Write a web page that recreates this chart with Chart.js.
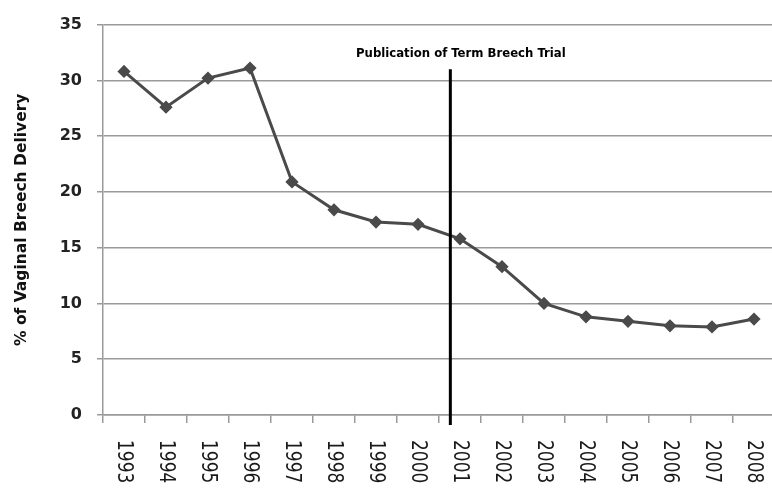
<!DOCTYPE html>
<html>
<head>
<meta charset="utf-8">
<script src="https://cdn.jsdelivr.net/npm/chart.js@4/dist/chart.umd.min.js"></script>
<style>
  html, body { margin: 0; padding: 0; background: #fff; overflow: hidden; }
  #wrap { width: 772px; height: 488px; overflow: hidden; }
</style>
</head>
<body>
<div id="wrap"><canvas id="myChart1" width="776" height="488"></canvas></div>
<script>
// values
var years = ['1993', '1994', '1995', '1996', '1997', '1998', '1999', '2000',
             '2001', '2002', '2003', '2004', '2005', '2006', '2007', '2008'];
var vaginalBreech = [30.8, 27.6, 30.2, 31.1, 20.9, 18.4, 17.3, 17.1,
                     15.8, 13.3, 10.0, 8.8, 8.4, 8.0, 7.9, 8.6];
var yTicks = [0, 5, 10, 15, 20, 25, 30, 35];

// publication marker (category index between 2000 and 2001, top value)
var pubIndex = 7.77;
var pubTop = 31;
var pubLabel = 'Publication of Term Breech Trial';
var pubLabelIndex = 8.02;
var pubLabelValue = 32.4;

// vertical line + text, and x labels rotated clockwise
const extras = {
  id: 'extras',
  afterDatasetsDraw(chart) {
    const ctx = chart.ctx;
    const x = chart.scales.x, y = chart.scales.y;
    ctx.save();
    ctx.strokeStyle = '#000';
    ctx.lineWidth = 3;
    ctx.beginPath();
    var px = x.getPixelForValue(pubIndex);
    ctx.moveTo(px, y.getPixelForValue(pubTop));
    ctx.lineTo(px, y.bottom + 10);
    ctx.stroke();

    ctx.fillStyle = '#000';
    ctx.font = 'bold 13px "DejaVu Sans Condensed", "DejaVu Sans"';
    ctx.textAlign = 'center';
    ctx.textBaseline = 'middle';
    ctx.fillText(pubLabel, x.getPixelForValue(pubLabelIndex), y.getPixelForValue(pubLabelValue));

    ctx.font = '17px "DejaVu Sans"';
    ctx.fillStyle = '#1a1a1a';
    ctx.textAlign = 'left';
    years.forEach((lab, i) => {
      ctx.save();
      ctx.translate(x.getPixelForTick(i), y.bottom + 25);
      ctx.rotate(Math.PI / 2);
      ctx.scale(1, 1.25);
      ctx.fillText(lab, 0, 0);
      ctx.restore();
    });
    ctx.restore();
  }
};

var ctx = document.getElementById('myChart1').getContext('2d');
var myChart1 = new Chart(ctx, {
  type: 'line',
  data: {
    labels: years,
    datasets: [{
      label: '% of Vaginal Breech Delivery',
      data: vaginalBreech,
      borderColor: '#4a4a4a',
      backgroundColor: '#4a4a4a',
      borderWidth: 3,
      pointStyle: 'rectRot',
      pointRadius: 4.5,
      pointHoverRadius: 4.5,
      tension: 0
    }]
  },
  plugins: [extras],
  options: {
    responsive: false,
    animation: false,
    layout: { autoPadding: false, padding: { top: 16, right: 1, left: 0, bottom: 0 } },
    plugins: { legend: { display: false }, tooltip: { enabled: false } },
    scales: {
      y: {
        min: 0,
        max: 35,
        afterBuildTicks: s => { s.ticks = yTicks.map(v => ({ value: v })); },
        afterFit: s => { s.width = 103; },
        grid: { color: '#9a9a9a', lineWidth: 1.5, tickLength: 6 },
        border: { color: '#9a9a9a', width: 1.5 },
        ticks: {
          color: '#222',
          padding: 15,
          font: { family: 'DejaVu Sans', weight: 'bold', size: 16 }
        },
        title: {
          display: true,
          text: '% of Vaginal Breech Delivery',
          color: '#111',
          padding: { top: 13, bottom: 0 },
          font: { family: 'DejaVu Sans', weight: 'bold', size: 15.5 }
        }
      },
      x: {
        offset: true,
        afterFit: s => { s.height = 73; },
        grid: { offset: true, drawOnChartArea: false, color: '#9a9a9a', lineWidth: 1.5, tickLength: 8 },
        border: { color: '#9a9a9a', width: 1.5 },
        ticks: { display: false }
      }
    }
  }
});
</script>
</body>
</html>
